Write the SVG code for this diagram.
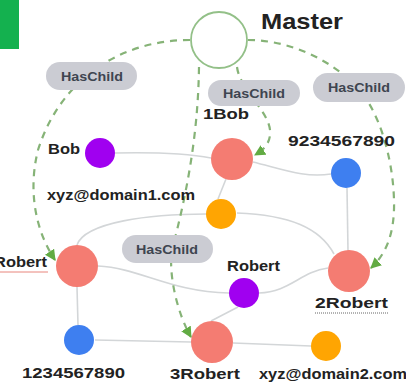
<svg xmlns="http://www.w3.org/2000/svg" width="406" height="383" viewBox="0 0 406 383">
<style>
.e{fill:none;stroke:#d3d6d8;stroke-width:1.6}
.d{fill:none;stroke:#86b377;stroke-width:2.2;stroke-dasharray:7 6}
.lbl{font-family:"Liberation Sans",Arial,sans-serif;font-weight:bold;font-size:15px;fill:#222}
.pill{fill:#cbccd3}
.pt{font-family:"Liberation Sans",Arial,sans-serif;font-weight:bold;font-size:13px;fill:#3e4550;text-anchor:middle}
.big{fill:#f47c72}
.pur{fill:#a000f0}
.blu{fill:#3e7ff0}
.ora{fill:#ffa502}
</style>
<defs>
<marker id="ah" viewBox="0 0 10 10" refX="9" refY="5" markerWidth="11" markerHeight="11" markerUnits="userSpaceOnUse" orient="auto">
<path d="M0,0 L10,5 L0,10 z" fill="#62ab43"/>
</marker>
</defs>
<rect width="406" height="383" fill="#ffffff"/>
<rect x="0" y="0" width="19" height="49" fill="#14b14f"/>
<g id="connectors">
<path class="e" d="M115,153 C160,152 190,154 211,158"/>
<path class="e" d="M253,162 C285,170 305,178 331,174"/>
<path class="e" d="M226,179 L218,199"/>
<path class="e" d="M347,188 L348,251"/>
<path class="e" d="M77,245 C85,222 150,214 206,214"/>
<path class="e" d="M237,213 C290,215 320,228 334,254"/>
<path class="e" d="M98,266 C140,268 170,292 229,293"/>
<path class="e" d="M259,293 C290,292 300,272 328,268"/>
<path class="e" d="M238,307 L211,321"/>
<path class="e" d="M77,287 L78,325"/>
<path class="e" d="M95,340 L191,342"/>
<path class="e" d="M233,343 L311,346"/>
<path class="d" d="M190,40 C120,40 60,80 38,150 C28,190 35,230 55,260" marker-end="url(#ah)"/>
<path class="d" d="M199,67 C198,140 185,200 172,250 C168,275 178,315 191,337" marker-end="url(#ah)"/>
<path class="d" d="M237,67 C240,90 268,110 270,130 C271,142 265,149 255,155" marker-end="url(#ah)"/>
<path class="d" d="M248,40 C290,40 330,60 355,85 C380,110 393,160 394,200 C395,235 385,255 371,268" marker-end="url(#ah)"/>
</g>
<g id="pill1"><rect class="pill" x="46" y="62" width="91" height="28" rx="14"/><text class="pt" x="92" y="81" textLength="62" lengthAdjust="spacingAndGlyphs">HasChild</text></g>
<g id="pill2"><rect class="pill" x="208" y="80" width="92" height="26" rx="13"/><text class="pt" x="254" y="98" textLength="62" lengthAdjust="spacingAndGlyphs">HasChild</text></g>
<g id="pill3"><rect class="pill" x="313" y="73" width="92" height="29" rx="14.5"/><text class="pt" x="359" y="92" textLength="62" lengthAdjust="spacingAndGlyphs">HasChild</text></g>
<g id="pill4"><rect class="pill" x="122" y="235" width="91" height="28" rx="14"/><text class="pt" x="167" y="254" textLength="62" lengthAdjust="spacingAndGlyphs">HasChild</text></g>
<g id="master">
<circle cx="219" cy="40" r="28" fill="#ffffff" stroke="#93c088" stroke-width="1.8"/>
<text class="lbl" x="261" y="29" style="font-size:22px" textLength="82" lengthAdjust="spacingAndGlyphs">Master</text>
</g>
<g id="bob"><circle class="pur" cx="100" cy="153" r="15"/><text class="lbl" x="48" y="154" textLength="32" lengthAdjust="spacingAndGlyphs">Bob</text></g>
<g id="n1bob"><circle class="big" cx="232" cy="159" r="21"/><text class="lbl" x="203" y="119" textLength="46" lengthAdjust="spacingAndGlyphs">1Bob</text></g>
<g id="phone2"><circle class="blu" cx="346" cy="173" r="15"/><text class="lbl" x="288" y="146" textLength="107" lengthAdjust="spacingAndGlyphs">9234567890</text></g>
<g id="email1"><circle class="ora" cx="221" cy="214" r="15"/><text class="lbl" x="47" y="200" textLength="148" lengthAdjust="spacingAndGlyphs">xyz@domain1.com</text></g>
<g id="robert"><circle class="big" cx="77" cy="266" r="21"/><text class="lbl" x="-6" y="267" textLength="53" lengthAdjust="spacingAndGlyphs">Robert</text><line x1="0" y1="272" x2="48" y2="272" stroke="#e8857d" stroke-width="1"/></g>
<g id="robertp"><circle class="pur" cx="244" cy="293" r="15"/><text class="lbl" x="227" y="271" textLength="53" lengthAdjust="spacingAndGlyphs">Robert</text></g>
<g id="n2robert"><circle class="big" cx="349" cy="271" r="21"/><text class="lbl" x="315" y="308" textLength="73" lengthAdjust="spacingAndGlyphs">2Robert</text><line x1="315" y1="313" x2="388" y2="313" stroke="#666" stroke-width="1" stroke-dasharray="1 1"/></g>
<g id="phone1"><circle class="blu" cx="79" cy="340" r="15"/><text class="lbl" x="22" y="378" textLength="103" lengthAdjust="spacingAndGlyphs">1234567890</text></g>
<g id="n3robert"><circle class="big" cx="212" cy="342" r="21"/><text class="lbl" x="170" y="379" textLength="70" lengthAdjust="spacingAndGlyphs">3Robert</text></g>
<g id="email2"><circle class="ora" cx="326" cy="346" r="15"/><text class="lbl" x="259" y="379" textLength="148" lengthAdjust="spacingAndGlyphs">xyz@domain2.com</text></g>
</svg>
